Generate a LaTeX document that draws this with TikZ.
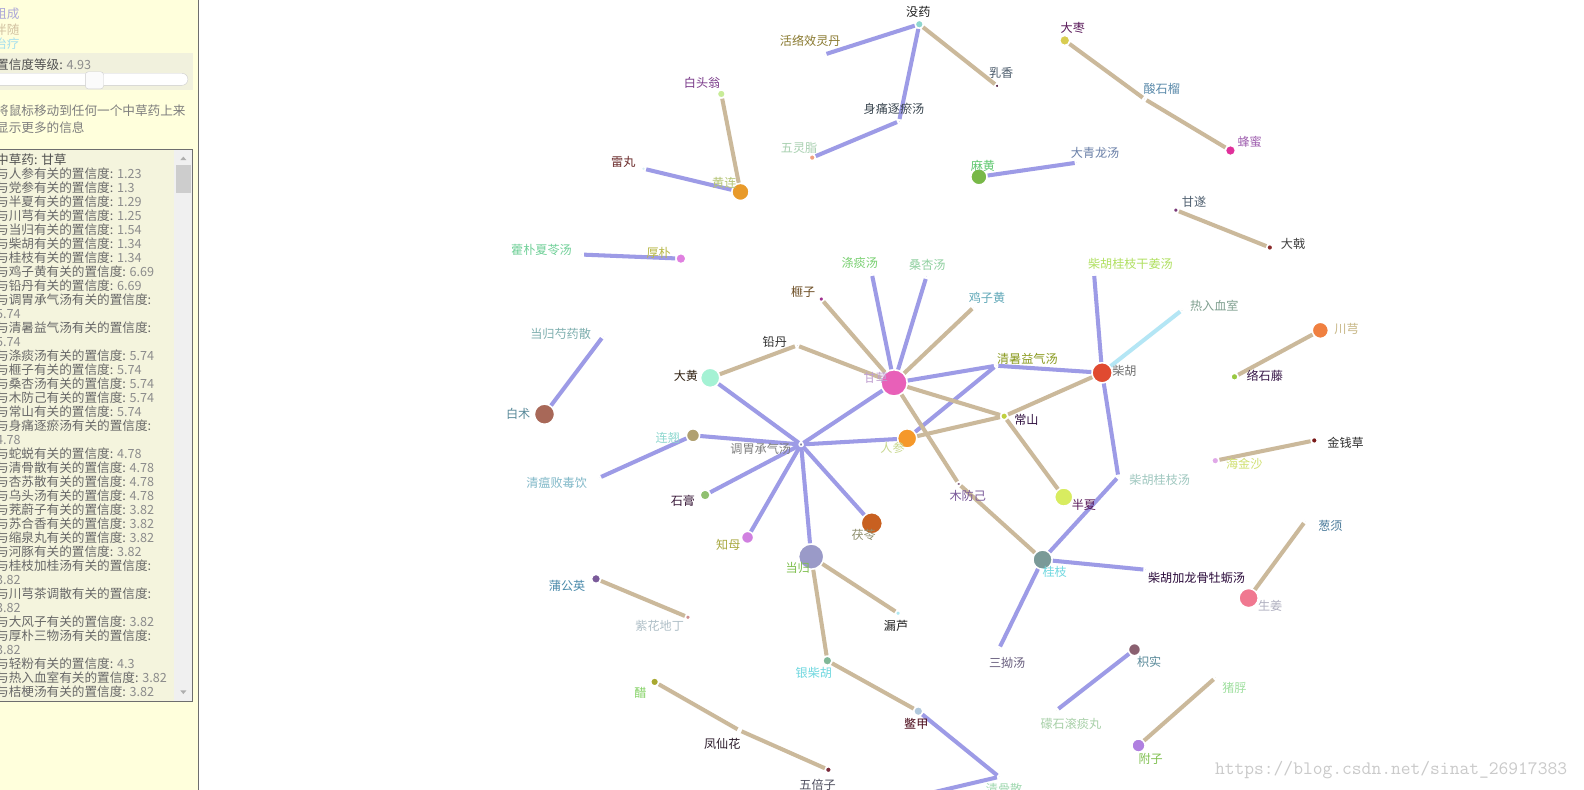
\documentclass[tikz,border=0pt]{standalone}
\usepackage{fontspec}
\setmainfont{Noto Sans CJK SC}
\usepackage{tikz}

\definecolor{PanelYellow}{HTML}{FFFFDC}
\definecolor{SliderBeige}{HTML}{F1F1DD}
\definecolor{ListBeige}{HTML}{F4F4DD}
\definecolor{ScrollGray}{HTML}{F0F0F0}
\definecolor{ThumbGray}{HTML}{CDCDCD}
\definecolor{FrameGray}{HTML}{6E6E6E}
\definecolor{PanelDark}{HTML}{505050}
\definecolor{ListText}{HTML}{686868}
\definecolor{ListNum}{HTML}{8C8C8C}
\definecolor{HintGray}{HTML}{7E7E7E}
\definecolor{MarkGray}{HTML}{CACACA}
\definecolor{ComposeBlue}{HTML}{9D9BE6}
\definecolor{FollowTan}{HTML}{CBB99B}
\definecolor{TreatCyan}{HTML}{B4E6F5}
\definecolor{ComposeText}{HTML}{ADA8D8}
\definecolor{FollowText}{HTML}{D2C2A2}
\definecolor{TreatText}{HTML}{A8E0EE}

\definecolor{MoyaoFill}{HTML}{8ED6CF}      \definecolor{MoyaoText}{HTML}{1E1E1E}
\definecolor{HuoluoFill}{HTML}{C8A0C0}     \definecolor{HuoluoText}{HTML}{8A7A30}
\definecolor{RuxiangFill}{HTML}{5A2A4A}    \definecolor{RuxiangText}{HTML}{4A5A6A}
\definecolor{ShentongFill}{HTML}{505070}   \definecolor{ShentongText}{HTML}{3A4650}
\definecolor{WulingzhiFill}{HTML}{F0A080}  \definecolor{WulingzhiText}{HTML}{A8D0B0}
\definecolor{BaitouwengFill}{HTML}{C8EC98} \definecolor{BaitouwengText}{HTML}{7A3A8A}
\definecolor{LeiwanFill}{HTML}{D8EEF4}     \definecolor{LeiwanText}{HTML}{6A2A2A}
\definecolor{HuanglianFill}{HTML}{E89A2A}  \definecolor{HuanglianText}{HTML}{B4C474}
\definecolor{HuopuFill}{HTML}{A0C0A0}      \definecolor{HuopuText}{HTML}{70D098}
\definecolor{HoupoFill}{HTML}{E080E0}      \definecolor{HoupoText}{HTML}{B8B848}
\definecolor{MahuangFill}{HTML}{78B848}    \definecolor{MahuangText}{HTML}{60C870}
\definecolor{DaqinglongFill}{HTML}{6A6A8A} \definecolor{DaqinglongText}{HTML}{6A80A8}
\definecolor{DazaoFill}{HTML}{D8CC50}      \definecolor{DazaoText}{HTML}{5A1A5A}
\definecolor{SuanshiliuFill}{HTML}{A08070} \definecolor{SuanshiliuText}{HTML}{5A8AAA}
\definecolor{FengmiFill}{HTML}{E0309A}     \definecolor{FengmiText}{HTML}{A060B0}
\definecolor{GansuiFill}{HTML}{7A3A7A}     \definecolor{GansuiText}{HTML}{506070}
\definecolor{DajiFill}{HTML}{8A2A2A}       \definecolor{DajiText}{HTML}{404040}
\definecolor{ChaiganFill}{HTML}{A0A0B0}    \definecolor{ChaiganText}{HTML}{B0E060}
\definecolor{ReruFill}{HTML}{A09080}       \definecolor{ReruText}{HTML}{80A090}
\definecolor{ChuanxiongFill}{HTML}{F08040} \definecolor{ChuanxiongText}{HTML}{C8B888}
\definecolor{LuoshiFill}{HTML}{98C840}     \definecolor{LuoshiText}{HTML}{3A1A4A}
\definecolor{ChaihuFill}{HTML}{E04A30}     \definecolor{ChaihuText}{HTML}{707070}
\definecolor{DitanFill}{HTML}{9090C0}      \definecolor{DitanText}{HTML}{78D070}
\definecolor{SangxingFill}{HTML}{9090C0}   \definecolor{SangxingText}{HTML}{90D0A0}
\definecolor{FeiziFill}{HTML}{A03090}      \definecolor{FeiziText}{HTML}{6A4A20}
\definecolor{JizihuangFill}{HTML}{C0B090}  \definecolor{JizihuangText}{HTML}{60A8B8}
\definecolor{QiandanFill}{HTML}{705060}    \definecolor{QiandanText}{HTML}{303030}
\definecolor{DahuangFill}{HTML}{A4F2D4}    \definecolor{DahuangText}{HTML}{302010}
\definecolor{GancaoFill}{HTML}{E860B8}     \definecolor{GancaoText}{HTML}{C0A0D0}
\definecolor{QingshuFill}{HTML}{8080A0}    \definecolor{QingshuText}{HTML}{8A9A20}
\definecolor{ChangshanFill}{HTML}{C0D040}  \definecolor{ChangshanText}{HTML}{301040}
\definecolor{BaizhuFill}{HTML}{A86858}     \definecolor{BaizhuText}{HTML}{5A8A9A}
\definecolor{DangshaoFill}{HTML}{A0A0C0}   \definecolor{DangshaoText}{HTML}{80B0B0}
\definecolor{LianqiaoFill}{HTML}{B0A070}   \definecolor{LianqiaoText}{HTML}{90D8D0}
\definecolor{TiaoweiFill}{HTML}{8080A0}    \definecolor{TiaoweiText}{HTML}{808080}
\definecolor{RenshenFill}{HTML}{F5982A}    \definecolor{RenshenText}{HTML}{C8D890}
\definecolor{QingwenFill}{HTML}{B0B0D0}    \definecolor{QingwenText}{HTML}{80B8C8}
\definecolor{ShigaoFill}{HTML}{90C070}     \definecolor{ShigaoText}{HTML}{3A1A3A}
\definecolor{MufangjiFill}{HTML}{8A6A8A}   \definecolor{MufangjiText}{HTML}{7A5A9A}
\definecolor{FulingFill}{HTML}{C86020}     \definecolor{FulingText}{HTML}{909070}
\definecolor{ZhimuFill}{HTML}{D080E0}      \definecolor{ZhimuText}{HTML}{A8A840}
\definecolor{BanxiaFill}{HTML}{D8EC60}     \definecolor{BanxiaText}{HTML}{5A1A5A}
\definecolor{ChaiguiFill}{HTML}{A0A0C0}    \definecolor{ChaiguiText}{HTML}{A0C8C0}
\definecolor{GuizhiFill}{HTML}{7A9A98}     \definecolor{GuizhiText}{HTML}{70D8E0}
\definecolor{ChailongFill}{HTML}{A0A0A0}   \definecolor{ChailongText}{HTML}{2A0A3A}
\definecolor{DangguiFill}{HTML}{9A9AC8}    \definecolor{DangguiText}{HTML}{80C050}
\definecolor{LouluFill}{HTML}{B0E8F0}      \definecolor{LouluText}{HTML}{202020}
\definecolor{PugongyingFill}{HTML}{7A5A9A} \definecolor{PugongyingText}{HTML}{4A8AAA}
\definecolor{ZihuaFill}{HTML}{D09090}      \definecolor{ZihuaText}{HTML}{B0C0C8}
\definecolor{SanaoFill}{HTML}{8A6A9A}      \definecolor{SanaoText}{HTML}{6A6080}
\definecolor{YinchaihuFill}{HTML}{80B898}  \definecolor{YinchaihuText}{HTML}{70D8E0}
\definecolor{CuFill}{HTML}{A8A830}         \definecolor{CuText}{HTML}{80D060}
\definecolor{FengxianFill}{HTML}{E0E0C0}   \definecolor{FengxianText}{HTML}{2A1A2A}
\definecolor{BiejiaFill}{HTML}{B0C8DC}     \definecolor{BiejiaText}{HTML}{4A0A1A}
\definecolor{WubeiziFill}{HTML}{7A2A3A}    \definecolor{WubeiziText}{HTML}{505060}
\definecolor{QingguFill}{HTML}{C0A080}     \definecolor{QingguText}{HTML}{A0D8B0}
\definecolor{JinqianFill}{HTML}{7A1A1A}    \definecolor{JinqianText}{HTML}{303030}
\definecolor{HaijinFill}{HTML}{E0A8E8}     \definecolor{HaijinText}{HTML}{D0E070}
\definecolor{CongxuFill}{HTML}{A0A0A0}     \definecolor{CongxuText}{HTML}{4A7A9A}
\definecolor{ShengjiangFill}{HTML}{F07890} \definecolor{ShengjiangText}{HTML}{B0B0C0}
\definecolor{ZhishiFill}{HTML}{8A6070}     \definecolor{ZhishiText}{HTML}{5A8A9A}
\definecolor{MengshiFill}{HTML}{B0B080}    \definecolor{MengshiText}{HTML}{A8D0A8}
\definecolor{ZhupaoFill}{HTML}{C0C0A0}     \definecolor{ZhupaoText}{HTML}{A0E0A0}
\definecolor{FuziFill}{HTML}{B080E0}       \definecolor{FuziText}{HTML}{80C050}

\newcommand{\confval}[1]{{\color{ListNum}#1}}

\begin{document}
\begin{tikzpicture}[x=1pt, y=-1pt,
  herb/.style={circle, draw=white, line width=1.5pt, inner sep=0pt, minimum size=#1},
  herb/.default=3pt,
  lbl/.style={inner sep=0pt, font=\fontsize{12}{12}\selectfont},
  paneltxt/.style={inner sep=0pt, anchor=west, font=\fontsize{12.5}{13.87}\selectfont},
  compose/.style={draw=ComposeBlue, line width=4pt},
  follow/.style={draw=FollowTan, line width=4pt},
  treat/.style={draw=TreatCyan, line width=4pt}
]
\useasboundingbox (0,0) rectangle (1568,782);
\fill[white] (0,0) rectangle (1568,782);

% side panel
\fill[PanelYellow] (0,0) rectangle (196.5,782);
\draw[FrameGray, line width=1.3pt] (196.5,-1) -- (196.5,783);
\node[paneltxt, text=ComposeText] (lgcompose) at (-6,14) {组成};
\node[paneltxt, text=FollowText] (lgfollow) at (-6,29) {伴随};
\node[paneltxt, text=TreatText] (lgtreat) at (-6,43) {治疗};
\fill[SliderBeige] (0,52) rectangle (191,89.5);
\node[paneltxt, text=PanelDark] (level) at (-4,64) {置信度等级: \confval{4.93}};
\draw[fill=white, draw=ThumbGray, rounded corners=6pt] (-8,72.5) rectangle (186,84.5);
\draw[fill=ScrollGray!90!black!10!white, draw=ThumbGray, rounded corners=3pt] (84.5,71) rectangle (102.5,88);
\node[paneltxt, text=HintGray] (hint1) at (-4,110) {将鼠标移动到任何一个中草药上来};
\node[paneltxt, text=HintGray] (hint2) at (-4,126) {显示更多的信息};
\draw[FrameGray, fill=ListBeige] (-2,148) rectangle (190.5,694.5);
\fill[ScrollGray] (172.5,148.5) rectangle (190,694);
\fill[ThumbGray] (174.5,163.5) rectangle (189,191);
\fill[ListNum!70] (178.5,158.5) -- (184.5,158.5) -- (181.5,155) -- cycle;
\fill[ListNum!70] (178.5,683.5) -- (184.5,683.5) -- (181.5,687) -- cycle;
\node[inner sep=0pt, anchor=north west, align=left, text=ListText,
  font=\fontsize{12.5}{13.87}\selectfont] (infolist) at (-4,152) {%
{\color{PanelDark}中草药: 甘草}\\
与人参有关的置信度: \confval{1.23}\\
与党参有关的置信度: \confval{1.3}\\
与半夏有关的置信度: \confval{1.29}\\
与川芎有关的置信度: \confval{1.25}\\
与当归有关的置信度: \confval{1.54}\\
与柴胡有关的置信度: \confval{1.34}\\
与桂枝有关的置信度: \confval{1.34}\\
与鸡子黄有关的置信度: \confval{6.69}\\
与铅丹有关的置信度: \confval{6.69}\\
与调胃承气汤有关的置信度:\\
\confval{5.74}\\
与清暑益气汤有关的置信度:\\
\confval{5.74}\\
与涤痰汤有关的置信度: \confval{5.74}\\
与榧子有关的置信度: \confval{5.74}\\
与桑杏汤有关的置信度: \confval{5.74}\\
与木防己有关的置信度: \confval{5.74}\\
与常山有关的置信度: \confval{5.74}\\
与身痛逐瘀汤有关的置信度:\\
\confval{4.78}\\
与蛇蜕有关的置信度: \confval{4.78}\\
与清骨散有关的置信度: \confval{4.78}\\
与杏苏散有关的置信度: \confval{4.78}\\
与乌头汤有关的置信度: \confval{4.78}\\
与茺蔚子有关的置信度: \confval{3.82}\\
与苏合香有关的置信度: \confval{3.82}\\
与缩泉丸有关的置信度: \confval{3.82}\\
与河豚有关的置信度: \confval{3.82}\\
与桂枝加桂汤有关的置信度:\\
\confval{3.82}\\
与川芎茶调散有关的置信度:\\
\confval{3.82}\\
与大风子有关的置信度: \confval{3.82}\\
与厚朴三物汤有关的置信度:\\
\confval{3.82}\\
与轻粉有关的置信度: \confval{4.3}\\
与热入血室有关的置信度: \confval{3.82}\\
与桔梗汤有关的置信度: \confval{3.82}};

% herbs and formulas
\node[herb=8pt, fill=MoyaoFill] (moyao) at (910,24) {};
\node[herb, fill=HuoluoFill] (huoluo) at (816,54) {};
\node[herb=4pt, fill=RuxiangFill] (ruxiang) at (987,85) {};
\node[herb, fill=ShentongFill] (shentong) at (890,120) {};
\node[herb=6pt, fill=WulingzhiFill] (wulingzhi) at (804,156) {};
\node[herb=8pt, fill=BaitouwengFill] (baitouweng) at (714,93) {};
\node[herb=4pt, fill=LeiwanFill] (leiwan) at (637,167) {};
\node[herb=17pt, fill=HuanglianFill] (huanglian) at (733,190) {};
\node[herb, fill=HuopuFill] (huopu) at (576,252) {};
\node[herb=10pt, fill=HoupoFill] (houpo) at (674,256) {};
\node[herb=16pt, fill=MahuangFill] (mahuang) at (969,175) {};
\node[herb, fill=DaqinglongFill] (daqinglong) at (1066,161) {};
\node[herb=10pt, fill=DazaoFill] (dazao) at (1054,40) {};
\node[herb, fill=SuanshiliuFill] (suanshiliu) at (1133,98) {};
\node[herb=10pt, fill=FengmiFill] (fengmi) at (1218,149) {};
\node[herb=5pt, fill=GansuiFill] (gansui) at (1164,208) {};
\node[herb=6pt, fill=DajiFill] (daji) at (1257,245) {};
\node[herb, fill=ChaiganFill] (chaigan) at (1083,271) {};
\node[herb, fill=ReruFill] (reru) at (1170,307) {};
\node[herb=16pt, fill=ChuanxiongFill] (chuanxiong) at (1307,327) {};
\node[herb=7pt, fill=LuoshiFill] (luoshi) at (1222,373) {};
\node[herb=20pt, fill=ChaihuFill] (chaihu) at (1091,369) {};
\node[herb, fill=DitanFill] (ditan) at (863,271) {};
\node[herb, fill=SangxingFill] (sangxing) at (917,274) {};
\node[herb=5pt, fill=FeiziFill] (feizi) at (813,296) {};
\node[herb, fill=JizihuangFill] (jizihuang) at (964,304) {};
\node[herb, fill=QiandanFill] (qiandan) at (789,342) {};
\node[herb=19pt, fill=DahuangFill] (dahuang) at (703,374) {};
\node[herb=26pt, fill=GancaoFill] (gancao) at (885,379) {};
\node[herb, fill=QingshuFill] (qingshu) at (986,362) {};
\node[herb=7pt, fill=ChangshanFill] (changshan) at (994,412) {};
\node[herb=20pt, fill=BaizhuFill] (baizhu) at (539,410) {};
\node[herb, fill=DangshaoFill] (dangshao) at (597,333) {};
\node[herb=13pt, fill=LianqiaoFill] (lianqiao) at (686,431) {};
\node[herb=4pt, fill=TiaoweiFill] (tiaowei) at (793,440) {};
\node[herb=19pt, fill=RenshenFill] (renshen) at (898,434) {};
\node[herb, fill=QingwenFill] (qingwen) at (593,473) {};
\node[herb=10pt, fill=ShigaoFill] (shigao) at (698,490) {};
\node[herb=4pt, fill=MufangjiFill] (mufangji) at (949,479) {};
\node[herb=21pt, fill=FulingFill] (fuling) at (863,518) {};
\node[herb=12pt, fill=ZhimuFill] (zhimu) at (740,532) {};
\node[herb=18pt, fill=BanxiaFill] (banxia) at (1053,492) {};
\node[herb, fill=ChaiguiFill] (chaigui) at (1107,472) {};
\node[herb=19pt, fill=GuizhiFill] (guizhi) at (1032,554) {};
\node[herb, fill=ChailongFill] (chailong) at (1134,564) {};
\node[herb=25pt, fill=DangguiFill] (danggui) at (803,551) {};
\node[herb=5pt, fill=LouluFill] (loulu) at (889,607) {};
\node[herb=9pt, fill=PugongyingFill] (pugongying) at (590,573) {};
\node[herb=5pt, fill=ZihuaFill] (zihua) at (681,611) {};
\node[herb, fill=SanaoFill] (sanao) at (989,642) {};
\node[herb=9pt, fill=YinchaihuFill] (yinchaihu) at (819,654) {};
\node[herb=8pt, fill=CuFill] (cu) at (648,675) {};
\node[herb, fill=FengxianFill] (fengxian) at (732,723) {};
\node[herb=9pt, fill=BiejiaFill] (biejia) at (909,704) {};
\node[herb=6pt, fill=WubeiziFill] (wubeizi) at (820,762) {};
\node[herb, fill=QingguFill] (qinggu) at (989,769) {};
\coordinate (offpage) at (870,797);
\node[herb=6pt, fill=JinqianFill] (jinqian) at (1301,436) {};
\node[herb=7pt, fill=HaijinFill] (haijin) at (1203,456) {};
\node[herb, fill=CongxuFill] (congxu) at (1292,516) {};
\node[herb=19pt, fill=ShengjiangFill] (shengjiang) at (1236,592) {};
\node[herb=12pt, fill=ZhishiFill] (zhishi) at (1123,643) {};
\node[herb, fill=MengshiFill] (mengshi) at (1046,703) {};
\node[herb, fill=ZhupaoFill] (zhupao) at (1203,671) {};
\node[herb=13pt, fill=FuziFill] (fuzi) at (1127,738) {};

% links
\draw[compose] (huoluo) -- (moyao);
\draw[compose] (moyao) -- (shentong);
\draw[compose] (shentong) -- (wulingzhi);
\draw[compose] (leiwan) -- (huanglian);
\draw[compose] (huopu) -- (houpo);
\draw[compose] (mahuang) -- (daqinglong);
\draw[compose] (chaigan) -- (chaihu);
\draw[compose] (ditan) -- (gancao);
\draw[compose] (sangxing) -- (gancao);
\draw[compose] (gancao) -- (qingshu);
\draw[compose] (qingshu) -- (chaihu);
\draw[compose] (qingshu) -- (renshen);
\draw[compose] (gancao) -- (tiaowei);
\draw[compose] (dahuang) -- (tiaowei);
\draw[compose] (lianqiao) -- (tiaowei);
\draw[compose] (renshen) -- (tiaowei);
\draw[compose] (shigao) -- (tiaowei);
\draw[compose] (zhimu) -- (tiaowei);
\draw[compose] (danggui) -- (tiaowei);
\draw[compose] (fuling) -- (tiaowei);
\draw[compose] (dangshao) -- (baizhu);
\draw[compose] (qingwen) -- (lianqiao);
\draw[compose] (chaihu) -- (chaigui);
\draw[compose] (chaigui) -- (guizhi);
\draw[compose] (guizhi) -- (chailong);
\draw[compose] (guizhi) -- (sanao);
\draw[compose] (biejia) -- (qinggu);
\draw[compose] (qinggu) -- (offpage);
\draw[compose] (zhishi) -- (mengshi);
\draw[follow] (moyao) -- (ruxiang);
\draw[follow] (baitouweng) -- (huanglian);
\draw[follow] (dazao) -- (suanshiliu);
\draw[follow] (suanshiliu) -- (fengmi);
\draw[follow] (gansui) -- (daji);
\draw[follow] (chuanxiong) -- (luoshi);
\draw[follow] (feizi) -- (gancao);
\draw[follow] (jizihuang) -- (gancao);
\draw[follow] (qiandan) -- (gancao);
\draw[follow] (qiandan) -- (dahuang);
\draw[follow] (gancao) -- (changshan);
\draw[follow] (gancao) -- (mufangji);
\draw[follow] (mufangji) -- (guizhi);
\draw[follow] (changshan) -- (renshen);
\draw[follow] (changshan) -- (chaihu);
\draw[follow] (changshan) -- (banxia);
\draw[follow] (danggui) -- (loulu);
\draw[follow] (danggui) -- (yinchaihu);
\draw[follow] (yinchaihu) -- (biejia);
\draw[follow] (pugongying) -- (zihua);
\draw[follow] (cu) -- (fengxian);
\draw[follow] (fengxian) -- (wubeizi);
\draw[follow] (jinqian) -- (haijin);
\draw[follow] (congxu) -- (shengjiang);
\draw[follow] (zhupao) -- (fuzi);
\draw[treat] (reru) -- (chaihu);

% names
\node[lbl, text=MoyaoText] (moyao-name) at ([shift={(-1,-12)}]moyao) {没药};
\node[lbl, text=HuoluoText] (huoluo-name) at ([shift={(-14,-14)}]huoluo) {活络效灵丹};
\node[lbl, text=RuxiangText] (ruxiang-name) at ([shift={(4,-13)}]ruxiang) {乳香};
\node[lbl, text=ShentongText] (shentong-name) at ([shift={(-5,-12)}]shentong) {身痛逐瘀汤};
\node[lbl, text=WulingzhiText] (wulingzhi-name) at ([shift={(-13,-10)}]wulingzhi) {五灵脂};
\node[lbl, text=BaitouwengText] (baitouweng-name) at ([shift={(-19,-11)}]baitouweng) {白头翁};
\node[lbl, text=LeiwanText] (leiwan-name) at ([shift={(-20,-7)}]leiwan) {雷丸};
\node[lbl, text=HuanglianText] (huanglian-name) at ([shift={(-16,-9)}]huanglian) {黄连};
\node[lbl, text=HuopuText] (huopu-name) at ([shift={(-40,-5)}]huopu) {藿朴夏苓汤};
\node[lbl, text=HoupoText] (houpo-name) at ([shift={(-22,-6)}]houpo) {厚朴};
\node[lbl, text=MahuangText] (mahuang-name) at ([shift={(4,-11)}]mahuang) {麻黄};
\node[lbl, text=DaqinglongText] (daqinglong-name) at ([shift={(18,-10)}]daqinglong) {大青龙汤};
\node[lbl, text=DazaoText] (dazao-name) at ([shift={(8,-12)}]dazao) {大枣};
\node[lbl, text=SuanshiliuText] (suanshiliu-name) at ([shift={(17,-10)}]suanshiliu) {酸石榴};
\node[lbl, text=FengmiText] (fengmi-name) at ([shift={(19,-9)}]fengmi) {蜂蜜};
\node[lbl, text=GansuiText] (gansui-name) at ([shift={(18,-8)}]gansui) {甘遂};
\node[lbl, text=DajiText] (daji-name) at ([shift={(23,-4)}]daji) {大戟};
\node[lbl, text=ChaiganText] (chaigan-name) at ([shift={(36,-10)}]chaigan) {柴胡桂枝干姜汤};
\node[lbl, text=ReruText] (reru-name) at ([shift={(32,-4)}]reru) {热入血室};
\node[lbl, text=ChuanxiongText] (chuanxiong-name) at ([shift={(26,-1)}]chuanxiong) {川芎};
\node[lbl, text=LuoshiText] (luoshi-name) at ([shift={(30,-1)}]luoshi) {络石藤};
\node[lbl, text=ChaihuText] (chaihu-name) at ([shift={(22,-2)}]chaihu) {柴胡};
\node[lbl, text=DitanText] (ditan-name) at ([shift={(-12,-10.5)}]ditan) {涤痰汤};
\node[lbl, text=SangxingText] (sangxing-name) at ([shift={(1,-11.5)}]sangxing) {桑杏汤};
\node[lbl, text=FeiziText] (feizi-name) at ([shift={(-18,-7)}]feizi) {榧子};
\node[lbl, text=JizihuangText] (jizihuang-name) at ([shift={(13,-9.5)}]jizihuang) {鸡子黄};
\node[lbl, text=QiandanText] (qiandan-name) at ([shift={(-22,-3.3)}]qiandan) {铅丹};
\node[lbl, text=DahuangText] (dahuang-name) at ([shift={(-24,-2.3)}]dahuang) {大黄};
\node[lbl, text=GancaoText] (gancao-name) at ([shift={(-18,-5)}]gancao) {甘草};
\node[lbl, text=QingshuText] (qingshu-name) at ([shift={(31,-7)}]qingshu) {清暑益气汤};
\node[lbl, text=ChangshanText] (changshan-name) at ([shift={(22,4)}]changshan) {常山};
\node[lbl, text=BaizhuText] (baizhu-name) at ([shift={(-26,0)}]baizhu) {白术};
\node[lbl, text=DangshaoText] (dangshao-name) at ([shift={(-42,-2)}]dangshao) {当归芍药散};
\node[lbl, text=LianqiaoText] (lianqiao-name) at ([shift={(-25,2.6)}]lianqiao) {连翘};
\node[lbl, text=TiaoweiText] (tiaowei-name) at ([shift={(-40,4.3)}]tiaowei) {调胃承气汤};
\node[lbl, text=RenshenText] (renshen-name) at ([shift={(-14.5,9.2)}]renshen) {人参};
\node[lbl, text=QingwenText] (qingwen-name) at ([shift={(-42,5)}]qingwen) {清瘟败毒饮};
\node[lbl, text=ShigaoText] (shigao-name) at ([shift={(-22,5.6)}]shigao) {石膏};
\node[lbl, text=MufangjiText] (mufangji-name) at ([shift={(9,12)}]mufangji) {木防己};
\node[lbl, text=FulingText] (fuling-name) at ([shift={(-8,12)}]fuling) {茯苓};
\node[lbl, text=ZhimuText] (zhimu-name) at ([shift={(-19,7.6)}]zhimu) {知母};
\node[lbl, text=BanxiaText] (banxia-name) at ([shift={(20,7.6)}]banxia) {半夏};
\node[lbl, text=ChaiguiText] (chaigui-name) at ([shift={(41,2.7)}]chaigui) {柴胡桂枝汤};
\node[lbl, text=GuizhiText] (guizhi-name) at ([shift={(12,12)}]guizhi) {桂枝};
\node[lbl, text=ChailongText] (chailong-name) at ([shift={(50.5,8.2)}]chailong) {柴胡加龙骨牡蛎汤};
\node[lbl, text=DangguiText] (danggui-name) at ([shift={(-13.4,11)}]danggui) {当归};
\node[lbl, text=LouluText] (loulu-name) at ([shift={(-2,13)}]loulu) {漏芦};
\node[lbl, text=PugongyingText] (pugongying-name) at ([shift={(-28.6,7.3)}]pugongying) {蒲公英};
\node[lbl, text=ZihuaText] (zihua-name) at ([shift={(-28,9)}]zihua) {紫花地丁};
\node[lbl, text=SanaoText] (sanao-name) at ([shift={(8,14)}]sanao) {三拗汤};
\node[lbl, text=YinchaihuText] (yinchaihu-name) at ([shift={(-13.4,12.5)}]yinchaihu) {银柴胡};
\node[lbl, text=CuText] (cu-name) at ([shift={(-14,11)}]cu) {醋};
\node[lbl, text=FengxianText] (fengxian-name) at ([shift={(-17,13)}]fengxian) {凤仙花};
\node[lbl, text=BiejiaText] (biejia-name) at ([shift={(-2,13)}]biejia) {鳖甲};
\node[lbl, text=WubeiziText] (wubeizi-name) at ([shift={(-10.6,15)}]wubeizi) {五倍子};
\node[lbl, text=QingguText] (qinggu-name) at ([shift={(5,12)}]qinggu) {清骨散};
\node[lbl, text=JinqianText] (jinqian-name) at ([shift={(31,2)}]jinqian) {金钱草};
\node[lbl, text=HaijinText] (haijin-name) at ([shift={(28.7,3.3)}]haijin) {海金沙};
\node[lbl, text=CongxuText] (congxu-name) at ([shift={(25,5)}]congxu) {葱须};
\node[lbl, text=ShengjiangText] (shengjiang-name) at ([shift={(21.4,8.2)}]shengjiang) {生姜};
\node[lbl, text=ZhishiText] (zhishi-name) at ([shift={(14.5,12)}]zhishi) {枳实};
\node[lbl, text=MengshiText] (mengshi-name) at ([shift={(14,14)}]mengshi) {礞石滚痰丸};
\node[lbl, text=ZhupaoText] (zhupao-name) at ([shift={(19,10)}]zhupao) {猪脬};
\node[lbl, text=FuziText] (fuzi-name) at ([shift={(12,13)}]fuzi) {附子};

\node[inner sep=0pt, text=MarkGray, font=\ttfamily\fontsize{18.8}{19}\selectfont] (watermark) at (1377,762) {https://blog.csdn.net/sinat\_26917383};
\end{tikzpicture}
\end{document}
